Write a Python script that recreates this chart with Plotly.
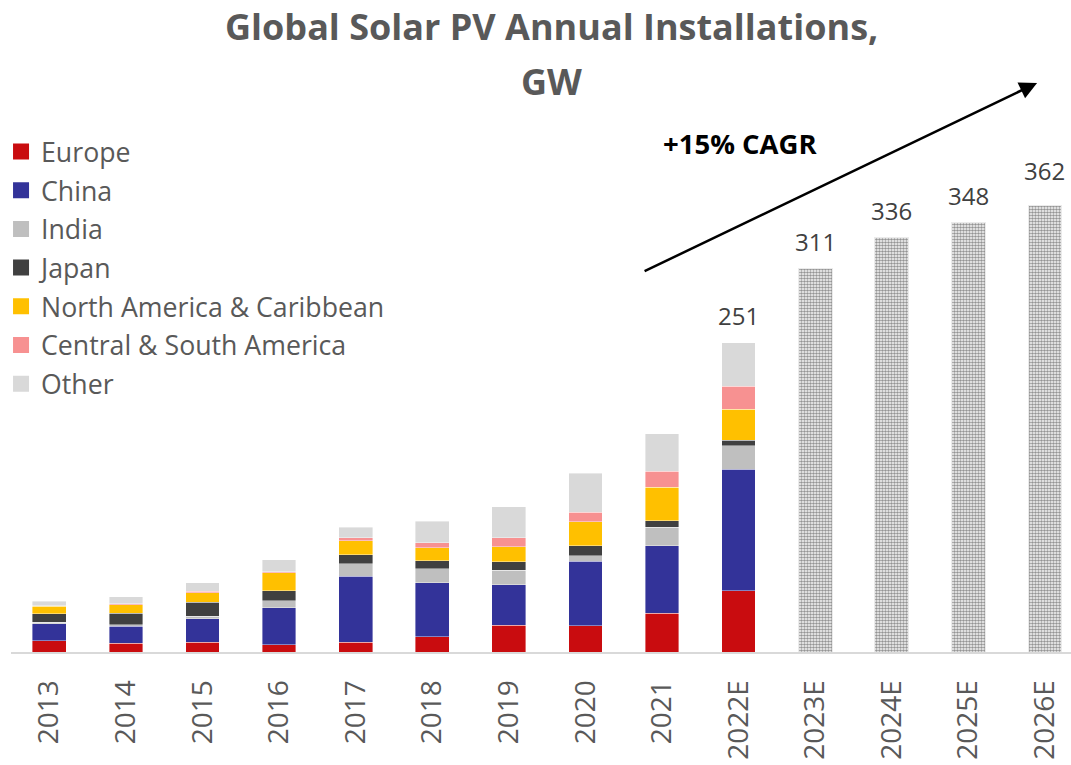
import plotly.graph_objects as go

years = ["2013", "2014", "2015", "2016", "2017", "2018", "2019", "2020", "2021", "2022E"]
forecast_years = ["2023E", "2024E", "2025E", "2026E"]
all_years = years + forecast_years

europe = [9, 7, 8.1, 6, 8.1, 12.2, 21.6, 21.4, 31.6, 49.7]
china = [14, 14, 18.7, 30, 53.3, 44, 33, 52.2, 54.6, 98.7]
india = [1, 1, 2.2, 5.7, 10.3, 11.4, 11.9, 4.3, 14.9, 18.7]
japan = [7, 9.5, 11.4, 7.8, 7.3, 6.5, 6.5, 8.1, 5.4, 4.6]
north_america = [6, 7, 7.8, 14.6, 11.1, 10.5, 12.2, 19.5, 27.3, 25.1]
central_south_america = [0.5, 0.5, 1.1, 0.8, 2.7, 4.1, 7.3, 7.8, 12.7, 18.7]
other = [3.5, 6, 6.7, 10.1, 8.2, 17.3, 25.5, 31.7, 30.5, 35.5]

totals = [41, 45, 56, 75, 101, 106, 118, 145, 177, 251]
forecast_totals = [311, 336, 348, 362]

series = [
    ("Europe", europe, "#C90C0F"),
    ("China", china, "#333399"),
    ("India", india, "#BFBFBF"),
    ("Japan", japan, "#404040"),
    ("North America & Caribbean", north_america, "#FFC000"),
    ("Central & South America", central_south_america, "#F79191"),
    ("Other", other, "#D9D9D9"),
]

FONT = "Open Sans"
TXT = "#595959"

fig = go.Figure()

for name, vals, col in series:
    fig.add_trace(go.Bar(
        x=years, y=vals, name=name, showlegend=False,
        marker=dict(color=col, line=dict(color="rgba(255,255,255,0.5)", width=0.8)),
        hoverinfo="x+y+name",
    ))

fig.add_trace(go.Bar(
    x=forecast_years, y=forecast_totals, name="Forecast", showlegend=False,
    marker=dict(
        color="white",
        line=dict(color="#EBEBEB", width=1),
        pattern=dict(shape=".", fgcolor="#2A2A2A", bgcolor="#FFFFFF", size=3, solidity=0.6),
    ),
))

# legend proxies
for i, (name, vals, col) in enumerate(series):
    fig.add_trace(go.Scatter(
        x=[None], y=[None], mode="markers", name=name,
        legendgroup=f"g{i}",
        marker=dict(symbol="square", size=17, color=col),
    ))

# value labels
labels_all = totals + forecast_totals
for i, (x, v) in enumerate(zip(all_years, labels_all)):
    fig.add_annotation(
        x=x, y=v, xref="x", yref="y", text=str(v), showarrow=False,
        xanchor="center", yanchor="bottom",
        yshift=17 if i == len(labels_all) - 1 else 9,
        font=dict(family=FONT, size=24, color="#404040"),
    )

# title lines
fig.add_annotation(
    x=0.510, y=1.1325, xref="paper", yref="paper", showarrow=False,
    text="Global Solar PV Annual Installations,", xanchor="center", yanchor="middle",
    font=dict(family=FONT, size=36, color=TXT, weight="bold"),
)
fig.add_annotation(
    x=0.510, y=1.0335, xref="paper", yref="paper", showarrow=False,
    text="GW", xanchor="center", yanchor="middle",
    font=dict(family=FONT, size=36, color=TXT, weight="bold"),
)

# CAGR arrow
fig.add_annotation(
    x=0.968, y=1.031, xref="paper", yref="paper",
    ax=-394, ay=189, text="", showarrow=True,
    arrowhead=2, arrowsize=1.4, arrowwidth=2.5, arrowcolor="#000000",
)
fig.add_annotation(
    x=0.688, y=0.922, xref="paper", yref="paper", showarrow=False,
    text="+15% CAGR", xanchor="center", yanchor="middle",
    font=dict(family=FONT, size=27.5, color="#000000", weight="bold"),
)

fig.update_layout(
    width=1071, height=765,
    barmode="stack", bargap=0.56,
    plot_bgcolor="white", paper_bgcolor="white",
    margin=dict(l=11, r=0, t=100, b=113, autoexpand=False),
    font=dict(family=FONT, color=TXT),
    showlegend=True,
    legend=dict(
        x=-0.0094, y=0.95, xanchor="left", yanchor="top",
        traceorder="grouped", tracegroupgap=1,
        font=dict(family=FONT, size=26.7, color=TXT),
        bgcolor="rgba(0,0,0,0)", itemsizing="trace",
    ),
    xaxis=dict(
        type="category", categoryorder="array", categoryarray=all_years,
        range=[-0.5, 13.34], showgrid=False, zeroline=False,
        showline=True, linecolor="#D9D9D9", linewidth=2,
        tickangle=-90, tickfont=dict(family=FONT, size=28, color=TXT),
        ticks="", ticklabelstandoff=15, automargin=False,
    ),
    yaxis=dict(range=[0, 447.7], visible=False, showgrid=False, zeroline=False),
)

fig.write_html(
    "out.html",
    config={"displayModeBar": False},
    post_script="document.body.style.margin='0';document.body.style.overflow='hidden';",
)
